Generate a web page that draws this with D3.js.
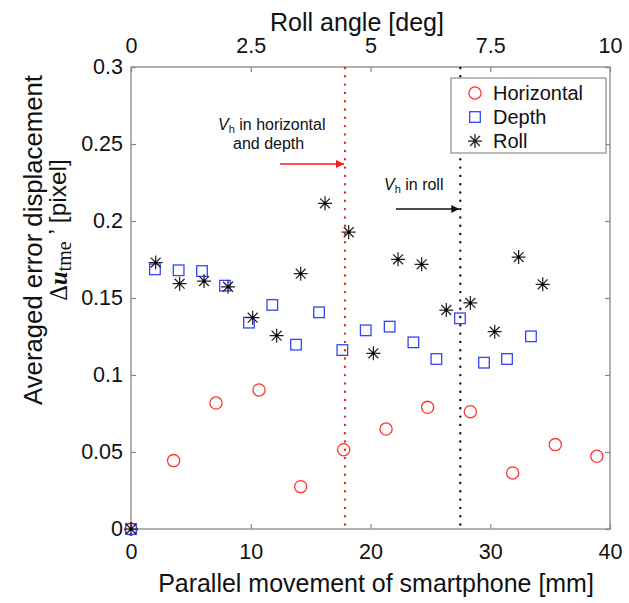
<!DOCTYPE html>
<html>
<head>
<meta charset="utf-8">
<script src="https://cdn.jsdelivr.net/npm/d3@7"></script>
<style>
  html, body { margin: 0; padding: 0; background: #fff; }
  svg { display: block; font-family: "Liberation Sans", Arial, sans-serif; }
</style>
</head>
<body>
<svg id="chart" width="629" height="603"></svg>
<script>
// ---------- data ----------
const horizontalX = [0, 3.56, 7.1, 10.69, 14.17, 17.76, 21.3, 24.77, 28.34, 31.87, 35.43, 38.9];
const horizontalY = [0, 0.0444, 0.0818, 0.0903, 0.0275, 0.0515, 0.0649, 0.079, 0.0762, 0.0364, 0.0548, 0.0472];

const depthX = [0, 2.0, 3.98, 5.93, 7.85, 9.85, 11.8, 13.78, 15.7, 17.65, 19.6, 21.6, 23.58, 25.5, 27.47, 29.48, 31.4, 33.4];
const depthY = [0, 0.1686, 0.168, 0.1675, 0.158, 0.134, 0.1455, 0.1197, 0.1407, 0.1162, 0.129, 0.1314, 0.1212, 0.1104, 0.1368, 0.108, 0.1104, 0.1251];

const rollX = [0, 2.06, 4.06, 6.1, 8.1, 10.16, 12.16, 14.17, 16.2, 18.18, 20.24, 22.3, 24.27, 26.33, 28.34, 30.37, 32.37, 34.38];
const rollY = [0, 0.173, 0.1593, 0.161, 0.1573, 0.1372, 0.1255, 0.1658, 0.2115, 0.1927, 0.1141, 0.1751, 0.1719, 0.1422, 0.1468, 0.1281, 0.1766, 0.1589];

const xTicks = [0, 10, 20, 30, 40];
const xTickLabels = ["0", "10", "20", "30", "40"];
const rollTicks = [0, 2.5, 5, 7.5, 10];
const rollTickLabels = ["0", "2.5", "5", "7.5", "10"];
const yTicks = [0, 0.05, 0.1, 0.15, 0.2, 0.25, 0.3];
const yTickLabels = ["0", "0.05", "0.1", "0.15", "0.2", "0.25", "0.3"];

const vhHorizontalDepth = 17.87; // mm
const vhRoll = 27.5;             // mm

const legendLabels = ["Horizontal", "Depth", "Roll"];

// ---------- layout ----------
const svg = d3.select("#chart");
const L = 131, R = 610, T = 67, B = 529;
const x = d3.scaleLinear().domain([0, 40]).range([L, R]);
const xTop = d3.scaleLinear().domain([0, 10]).range([L, R]);
const y = d3.scaleLinear().domain([0, 0.3]).range([B, T]);

const axisColor = "#878787";
const fs = 21.5;

function styleAxis(g) {
  g.select(".domain").remove();
  g.selectAll(".tick line").attr("stroke", axisColor).attr("stroke-width", 1.2);
  g.selectAll(".tick text").attr("fill", "#111").style("font-size", fs + "px")
    .style("font-family", '"Liberation Sans", Arial, sans-serif');
}

// bottom
svg.append("g").attr("transform", `translate(0,${B})`)
  .call(d3.axisBottom(x).tickValues(xTicks).tickFormat((d, i) => xTickLabels[i])
    .tickSizeInner(-5).tickSizeOuter(0).tickPadding(15))
  .call(styleAxis);
// top (roll)
svg.append("g").attr("transform", `translate(0,${T})`)
  .call(d3.axisTop(xTop).tickValues(rollTicks).tickFormat((d, i) => rollTickLabels[i])
    .tickSizeInner(-5).tickSizeOuter(0).tickPadding(14))
  .call(styleAxis);
// left
svg.append("g").attr("transform", `translate(${L},0)`)
  .call(d3.axisLeft(y).tickValues(yTicks).tickFormat((d, i) => yTickLabels[i])
    .tickSizeInner(-5).tickSizeOuter(0).tickPadding(8))
  .call(styleAxis);
// right (ticks only)
svg.append("g").attr("transform", `translate(${R},0)`)
  .call(d3.axisRight(y).tickValues(yTicks).tickFormat("")
    .tickSizeInner(-5).tickSizeOuter(0))
  .call(styleAxis);

// frame
svg.append("rect").attr("x", L).attr("y", T).attr("width", R - L).attr("height", B - T)
  .attr("fill", "none").attr("stroke", axisColor).attr("stroke-width", 1.3);

// vertical dotted lines
svg.append("line").attr("x1", x(vhHorizontalDepth)).attr("x2", x(vhHorizontalDepth))
  .attr("y1", T + 1).attr("y2", B - 4)
  .attr("stroke", "#ff1a1a").attr("stroke-width", 2.4)
  .attr("stroke-dasharray", "0 8.3").attr("stroke-linecap", "round");
svg.append("line").attr("x1", x(vhRoll)).attr("x2", x(vhRoll))
  .attr("y1", T + 1).attr("y2", B - 4)
  .attr("stroke", "#111").attr("stroke-width", 2.4)
  .attr("stroke-dasharray", "0 8.3").attr("stroke-linecap", "round");

// arrows
const defs = svg.append("defs");
function marker(id, color) {
  defs.append("marker").attr("id", id).attr("viewBox", "0 0 10 10")
    .attr("refX", 10).attr("refY", 5).attr("markerWidth", 11).attr("markerHeight", 8)
    .attr("markerUnits", "userSpaceOnUse").attr("orient", "auto")
    .append("path").attr("d", "M0,0 L10,5 L0,10 Z").attr("fill", color);
}
marker("arrRed", "#ff1a1a");
marker("arrBlack", "#111");

svg.append("line").attr("x1", 280).attr("x2", x(vhHorizontalDepth) - 1)
  .attr("y1", 164).attr("y2", 164).attr("stroke", "#ff1a1a").attr("stroke-width", 1.5)
  .attr("marker-end", "url(#arrRed)");
svg.append("line").attr("x1", 396).attr("x2", x(vhRoll) - 1)
  .attr("y1", 209).attr("y2", 209).attr("stroke", "#111").attr("stroke-width", 1.5)
  .attr("marker-end", "url(#arrBlack)");

// annotation texts
function vhText(xPos, yPos, rest) {
  const t = svg.append("text").attr("x", xPos).attr("y", yPos)
    .style("font-size", "16px").attr("fill", "#111");
  t.append("tspan").style("font-style", "italic").text("V");
  t.append("tspan").attr("dy", 3).style("font-size", "11px").text("h");
  t.append("tspan").attr("dy", -3).text(rest);
  return t;
}
vhText(218, 130, " in horizontal");
svg.append("text").attr("x", 233).attr("y", 149).style("font-size", "16px").attr("fill", "#111").text("and depth");
vhText(384, 190, " in roll");

// ---------- markers ----------
const blue = "#3344ff", red = "#ff3333", dark = "#222";
const horiz = horizontalX.map((v, i) => ({ x: v, y: horizontalY[i] }));
const depth = depthX.map((v, i) => ({ x: v, y: depthY[i] }));
const roll = rollX.map((v, i) => ({ x: v, y: rollY[i] }));

const starPath = (r) => {
  const a = r * Math.SQRT1_2;
  return `M${-r},0L${r},0M0,${-r}L0,${r}M${-a},${-a}L${a},${a}M${-a},${a}L${a},${-a}`;
};

function drawCircles(g, data) {
  g.selectAll("circle").data(data).join("circle")
    .attr("cx", d => x(d.x)).attr("cy", d => y(d.y)).attr("r", 6.1)
    .attr("fill", "none").attr("stroke", red).attr("stroke-width", 1.3);
}
function drawSquares(g, data) {
  g.selectAll("rect").data(data).join("rect")
    .attr("x", d => x(d.x) - 5.3).attr("y", d => y(d.y) - 5.3)
    .attr("width", 10.6).attr("height", 10.6)
    .attr("fill", "none").attr("stroke", blue).attr("stroke-width", 1.3);
}
function drawStars(g, data) {
  g.selectAll("path").data(data).join("path")
    .attr("transform", d => `translate(${x(d.x)},${y(d.y)})`)
    .attr("d", starPath(7)).attr("fill", "none")
    .attr("stroke", dark).attr("stroke-width", 1.25);
  g.selectAll("circle").data(data).join("circle")
    .attr("cx", d => x(d.x)).attr("cy", d => y(d.y)).attr("r", 1.5).attr("fill", "#000");
}
drawCircles(svg.append("g"), horiz);
drawSquares(svg.append("g"), depth);
drawStars(svg.append("g"), roll);

// ---------- legend ----------
const lg = svg.append("g");
lg.append("rect").attr("x", 451).attr("y", 78).attr("width", 155).attr("height", 75)
  .attr("fill", "#fff").attr("stroke", "#777").attr("stroke-width", 1);
const ly = [93, 117, 141];
lg.append("circle").attr("cx", 475).attr("cy", ly[0]).attr("r", 6.1)
  .attr("fill", "none").attr("stroke", red).attr("stroke-width", 1.3);
lg.append("rect").attr("x", 475 - 5.3).attr("y", ly[1] - 5.3).attr("width", 10.6).attr("height", 10.6)
  .attr("fill", "none").attr("stroke", blue).attr("stroke-width", 1.3);
lg.append("path").attr("transform", `translate(475,${ly[2]})`).attr("d", starPath(7))
  .attr("fill", "none").attr("stroke", dark).attr("stroke-width", 1.25);
lg.selectAll("text").data(legendLabels).join("text")
  .attr("x", 493).attr("y", (d, i) => ly[i]).attr("dy", "0.36em")
  .style("font-size", "20px").attr("fill", "#111").text(d => d);

// ---------- axis titles ----------
function fitFont(sel, target) {
  const w = sel.node().getComputedTextLength();
  const f = parseFloat(sel.style("font-size"));
  if (w > 0) sel.style("font-size", (f * target / w).toFixed(2) + "px");
}
const bt = svg.append("text").attr("x", 376).attr("y", 592).attr("text-anchor", "middle")
  .style("font-size", "25px").attr("fill", "#111").text("Parallel movement of smartphone [mm]");
fitFont(bt, 436);
const tt = svg.append("text").attr("x", 357).attr("y", 31).attr("text-anchor", "middle")
  .style("font-size", "25px").attr("fill", "#111").text("Roll angle [deg]");
fitFont(tt, 174);

const serif = '"Liberation Serif", "Times New Roman", serif';
const l1 = svg.append("text").attr("transform", "translate(42,240) rotate(-90)")
  .attr("text-anchor", "middle").style("font-size", "25px").attr("fill", "#111")
  .text("Averaged error displacement");
fitFont(l1, 330);
const l2 = svg.append("text").attr("transform", "translate(67,230) rotate(-90)")
  .attr("text-anchor", "middle").style("font-size", "24.5px").attr("fill", "#111");
l2.append("tspan").style("font-family", serif).text("Δ");
l2.append("tspan").style("font-family", serif)
  .style("font-style", "italic").style("font-weight", "bold").text("u");
l2.append("tspan").attr("dy", "0.2em").style("font-family", serif)
  .style("font-size", "0.82em").text("tme");
l2.append("tspan").attr("dy", "-0.2em").text(" ’ [pixel]");
</script>
</body>
</html>
